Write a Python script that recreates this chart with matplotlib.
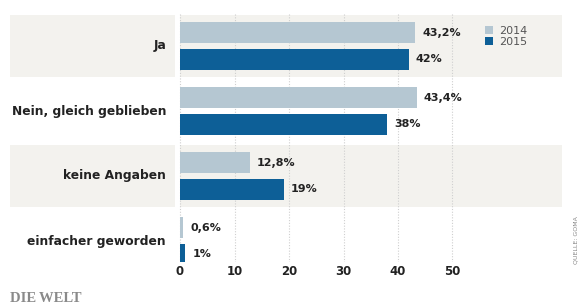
# -*- coding: utf-8 -*-
# Balkendiagramm 2014 vs 2015 (Nachbau einer WELT-Grafik)
import numpy as np
import matplotlib.pyplot as plt

# %%Daten
kategorien = ['Ja', 'Nein, gleich geblieben', 'keine Angaben', 'einfacher geworden']
werte_2014 = [43.2, 43.4, 12.8, 0.6]
werte_2015 = [42, 38, 19, 1]
etiketten_2014 = ['43,2%', '43,4%', '12,8%', '0,6%']
etiketten_2015 = ['42%', '38%', '19%', '1%']
jahre = ['2014', '2015']
xticks = [0, 10, 20, 30, 40, 50]

# %%Stil
hell = '#b5c7d2'
dunkel = '#0d5f97'
band = '#f3f2ee'
text_farbe = '#222222'
plt.rcParams['font.family'] = ['DejaVu Sans']

W, H = 582, 305
fig = plt.figure(figsize=(W/100, H/100), dpi=100)

# Achse: 10..562 px, x=0 bei 180 px, 54.5 px pro 10 Einheiten
px = 10/54.5
x0, x1 = (10 - 180)*px, (562 - 180)*px
top_px, bot_px = 13.5, 262
ax = fig.add_axes([10/W, 1 - bot_px/H, (562 - 10)/W, (bot_px - top_px)/H])
ax.set_xlim(x0, x1)
ax.set_ylim((bot_px - 46)/65, -0.5)

y = np.arange(len(kategorien))
h = 0.33
off = 0.205

# Hintergrundbänder
for i in y[::2]:
    ax.axhspan(i - 0.47, i + 0.47, color=band, zorder=0, lw=0)
ax.axvspan(-5*px, -0.5*px, color='white', zorder=0.5, lw=0)

# Gitterlinien
ax.vlines(xticks, -0.5, ax.get_ylim()[0], colors='#cfcfcf',
          linestyles=(0, (1, 1.5)), lw=0.8, zorder=1)

b1 = ax.barh(y - off, werte_2014, height=h, color=hell, zorder=2, label=jahre[0])
b2 = ax.barh(y + off, werte_2015, height=h, color=dunkel, zorder=2, label=jahre[1])

for yy, v, t in zip(y - off, werte_2014, etiketten_2014):
    ax.annotate(t, (v, yy), xytext=(5, 0), textcoords='offset points',
                va='center', ha='left', fontsize=8, fontweight='bold', color=text_farbe)
for yy, v, t in zip(y + off, werte_2015, etiketten_2015):
    ax.annotate(t, (v, yy), xytext=(5, 0), textcoords='offset points',
                va='center', ha='left', fontsize=8, fontweight='bold', color=text_farbe)

for yy, k in zip(y, kategorien):
    ax.annotate(k, (0, yy), xytext=(-10, 0), textcoords='offset points',
                va='center', ha='right', fontsize=8.8, fontweight='bold', color=text_farbe)

ax.set_xticks(xticks)
ax.set_xticklabels([str(t) for t in xticks], fontsize=8.5, fontweight='bold', color=text_farbe)
ax.tick_params(axis='x', length=0, pad=2)
ax.set_yticks([])
for s in ax.spines.values():
    s.set_visible(False)
ax.patch.set_alpha(0)

# Legende
fig.legend(handles=[b1, b2], loc='upper left', bbox_to_anchor=(479/W, 1 - 20/H),
           frameon=False, fontsize=8, handlelength=0.75, handleheight=0.75,
           handletextpad=0.6, labelspacing=0.15, borderpad=0, labelcolor='#555555')

# Quelle und Logo
fig.text(576/W, 1 - 240/H, 'QUELLE: GOMA', rotation=90, fontsize=4.5,
         color='#888888', ha='center', va='center')
fig.text(10/W, 1 - 298/H, 'DIE\u2009WELT', fontsize=10.5, family='Liberation Serif',
         fontweight='bold', color='#8a8a8a', ha='left', va='center')

fig.savefig('out.png', dpi=100)
